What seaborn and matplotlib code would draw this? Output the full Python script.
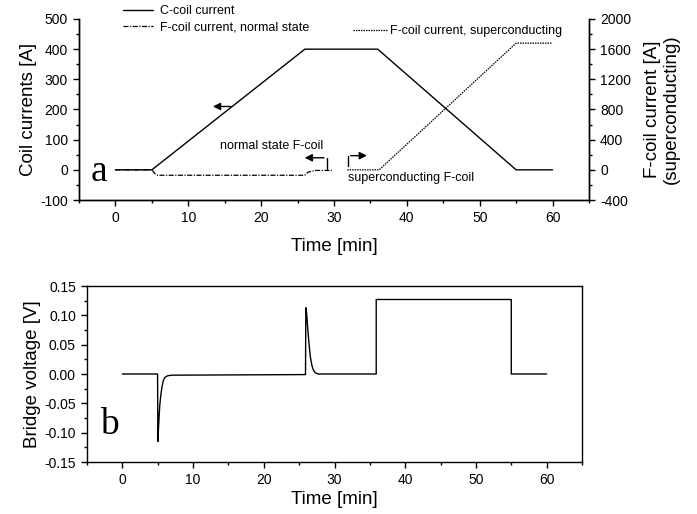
import numpy as np
import pandas as pd
import matplotlib
matplotlib.use('Agg')
import matplotlib.pyplot as plt
import seaborn as sns
from matplotlib.ticker import MultipleLocator, FormatStrFormatter

# Datos
tiempo_c = [0, 5, 26, 36, 55, 60]
corriente_c = [0, 0, 400, 400, 0, 0]

tiempo_fn = [0, 5, 5.4, 5.8, 26, 26.4, 27.4, 29.7]
corriente_fn = [0, 0, -12, -18, -18, -8, -2, -2]

tiempo_fs = [31.8, 36.2, 55, 60]
corriente_fs = [0, 0, 1680, 1680]

tiempo_v = [0, 4.98, 5.02, 5.1, 5.2, 5.3, 5.45, 5.6, 5.8, 6.0, 6.4, 7.0, 25.9,
            25.95, 26.05, 26.15, 26.3, 26.45, 26.6, 26.8, 27.0, 27.3, 27.7,
            35.9, 35.9, 55.0, 55.0, 60]
voltaje = [0, 0, -0.115, -0.095, -0.072, -0.052, -0.035, -0.022, -0.011, -0.006,
           -0.003, -0.002, -0.001, 0.113, 0.104, 0.088, 0.065, 0.045, 0.028,
           0.015, 0.007, 0.002, 0.0, 0.0, 0.127, 0.127, 0.0, 0.0]

sns.set_style("ticks", {'axes.edgecolor': 'black', 'text.color': 'black',
                        'axes.labelcolor': 'black', 'xtick.color': 'black',
                        'ytick.color': 'black'})
plt.rcParams['font.family'] = ['Liberation Sans', 'DejaVu Sans']
plt.rcParams['axes.unicode_minus'] = False
plt.rcParams['axes.linewidth'] = 1.0
plt.rcParams['xtick.major.size'] = 4.5
plt.rcParams['ytick.major.size'] = 4.5
plt.rcParams['xtick.minor.size'] = 2.5
plt.rcParams['ytick.minor.size'] = 2.5
plt.rcParams['xtick.direction'] = 'out'
plt.rcParams['ytick.direction'] = 'out'

fig = plt.figure(figsize=(6.97, 5.14), dpi=100)
ax = fig.add_axes([79 / 697, 1 - 200 / 514, 510 / 697, 181 / 514])
ax2 = ax.twinx()
axb = fig.add_axes([87 / 697, 1 - 462 / 514, 495 / 697, 176 / 514])

df_c = pd.DataFrame({'t': tiempo_c, 'I': corriente_c})
df_fn = pd.DataFrame({'t': tiempo_fn, 'I': corriente_fn})
df_fs = pd.DataFrame({'t': tiempo_fs, 'I': corriente_fs})
df_v = pd.DataFrame({'t': tiempo_v, 'V': voltaje})

sns.lineplot(data=df_c, x='t', y='I', ax=ax, color='black', lw=1.0,
             estimator=None, sort=False, label='C-coil current')
sns.lineplot(data=df_fn, x='t', y='I', ax=ax, color='black', lw=0.9,
             estimator=None, sort=False, dashes=False,
             label='F-coil current, normal state')
ax.lines[-1].set_dashes((4, 1.2, 1, 1.2))
sns.lineplot(data=df_fs, x='t', y='I', ax=ax2, color='black', lw=0.9,
             estimator=None, sort=False, label='F-coil current, superconducting')
ax2.lines[-1].set_dashes((1.2, 0.8))

sns.lineplot(data=df_v, x='t', y='V', ax=axb, color='black', lw=1.0,
             estimator=None, sort=False)

# Panel superior
ax.set_xlim(-5, 65)
ax.set_ylim(-100, 500)
ax2.set_ylim(-400, 2000)
ax.xaxis.set_major_locator(MultipleLocator(10))
ax.xaxis.set_minor_locator(MultipleLocator(5))
ax.yaxis.set_major_locator(MultipleLocator(100))
ax.yaxis.set_minor_locator(MultipleLocator(50))
ax2.yaxis.set_major_locator(MultipleLocator(400))
ax2.yaxis.set_minor_locator(MultipleLocator(200))
for a in (ax, ax2):
    a.spines['top'].set_visible(False)
    a.tick_params(labelsize=10)
    a.tick_params(which='both', width=1.0)
ax.set_xlabel('Time [min]', fontsize=13.5, labelpad=9)
ax.set_ylabel('Coil currents [A]', fontsize=13.5, labelpad=2)
ax2.set_ylabel('F-coil current [A]\n(superconducting)', fontsize=13.5, labelpad=9)

ax.get_legend().remove()
ax2.get_legend().remove()
h1, l1 = ax.get_legend_handles_labels()
h2, l2 = ax2.get_legend_handles_labels()
leg1 = fig.legend(h1, l1, loc='upper left', bbox_to_anchor=(123 / 697, 1 - 5 / 514),
                  frameon=False, fontsize=9, borderpad=0, borderaxespad=0,
                  handlelength=2.4, handletextpad=0.55, labelspacing=0.32)
leg2 = fig.legend(h2, l2, loc='upper left', bbox_to_anchor=(353 / 697, 1 - 25 / 514),
                  frameon=False, fontsize=9, borderpad=0, borderaxespad=0,
                  handlelength=2.7, handletextpad=0.25)

# Anotaciones
flecha = dict(arrowstyle='-|>', color='black', lw=1.0, mutation_scale=11)
ax.annotate('', xy=(13, 210), xytext=(16.2, 210), arrowprops=flecha)
ax.plot([29, 29], [3, 40], color='black', lw=1.0)
ax.annotate('', xy=(25.6, 40), xytext=(29, 40), arrowprops=flecha)
ax.plot([31.9, 31.9], [12, 47], color='black', lw=1.0)
ax.annotate('', xy=(34.9, 47), xytext=(31.9, 47), arrowprops=flecha)
ax.text(14.3, 80, 'normal state F-coil', fontsize=9, va='center', ha='left')
ax.text(31.9, -28, 'superconducting F-coil', fontsize=9, va='center', ha='left')
ax.text(-2.2, -5, 'a', fontsize=27, va='center', ha='center',
        family=['Liberation Serif', 'DejaVu Serif'])

# Panel inferior
axb.set_xlim(-5, 65)
axb.set_ylim(-0.15, 0.15)
axb.xaxis.set_major_locator(MultipleLocator(10))
axb.xaxis.set_minor_locator(MultipleLocator(5))
axb.yaxis.set_major_locator(MultipleLocator(0.05))
axb.yaxis.set_minor_locator(MultipleLocator(0.025))
axb.yaxis.set_major_formatter(FormatStrFormatter('%.2f'))
axb.tick_params(labelsize=10)
axb.tick_params(which='both', width=1.0)
axb.set_xlabel('Time [min]', fontsize=13.5, labelpad=3)
axb.set_ylabel('Bridge voltage [V]', fontsize=13.5, labelpad=2)
axb.text(-1.8, -0.087, 'b', fontsize=27, va='center', ha='center',
         family=['Liberation Serif', 'DejaVu Serif'])

fig.savefig('out.png', dpi=100)
